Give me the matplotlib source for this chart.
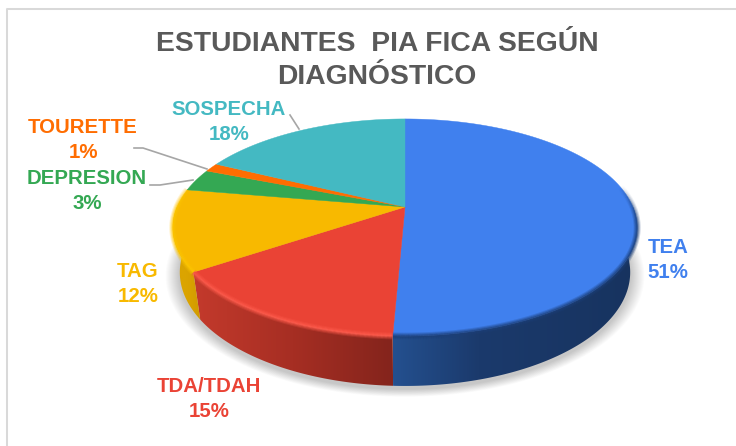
import numpy as np
import matplotlib
matplotlib.use("Agg")
import matplotlib.pyplot as plt
from matplotlib.collections import LineCollection
from matplotlib.colors import to_rgb, to_rgba
from matplotlib.patches import Polygon

plt.rcParams['font.family'] = ['Liberation Sans', 'DejaVu Sans']

labels = ["TEA", "TDA/TDAH", "TAG", "DEPRESION", "TOURETTE", "SOSPECHA"]
values = [50.7, 14.9, 12.1, 3.3, 1.3, 17.7]
colors = ["#4080ee", "#ea4335", "#f8b900", "#34a853", "#ff6d01", "#44b9c2"]
rim_colors = ["#1c3f78", "#ff5c4d", "#ffc800", "#34a853", "#ff6d01", "#44b9c2"]
wall_colors = [["#24508f", "#1b3a6c", "#17335f"], ["#c43a2c", "#a62e23", "#84241c"],
               ["#dba400", "#dba400", "#d09a00"], ["#2a8a44"] * 3, ["#d45a00"] * 3, ["#389aa2"] * 3]
label_pos = [(668, 260), (209, 399), (138, 284), (87, 191), (83, 140), (229, 122)]

cx, cy = 405, 207
A, B, k = 228, 104.7, 0.189
C, m = 45.8, 0.03


def top(t):
    X, Y = np.sin(t), np.cos(t)
    w = 1 + k * Y
    return cx + A * X / w, cy - B * Y / w


def bottom(t):
    X, Y = np.sin(t), np.cos(t)
    w = 1 + k * Y + m
    return cx + A * X / w, cy + (C - B * Y) / w


fig = plt.figure(figsize=(7.36, 4.46), dpi=100)
ax = fig.add_axes([0, 0, 1, 1])

# chart frame
ax.plot([7, 7, 736], [446, 9, 9], color="#d9d9d9", lw=1.45, zorder=1, solid_capstyle="butt")

# soft shadow under the pie
full = np.linspace(0, 2 * np.pi, 240)
sx, sy = bottom(full)
mx, my = sx.mean(), sy.mean()
for i in range(14):
    grow = 1 + (14 - i) * 0.0045
    ax.add_patch(Polygon(np.c_[mx + (sx - mx) * grow, my + (sy - my) * grow + 3], fc="black",
                         ec="none", alpha=0.016, zorder=2))

edges = np.cumsum([0] + values) / sum(values) * 2 * np.pi

# side wall, only the part facing us is visible
for i in range(len(values)):
    t0, t1 = max(edges[i], np.pi / 2), min(edges[i + 1], 3 * np.pi / 2)
    if t1 <= t0:
        continue
    s = np.linspace(t0, t1, 150)
    tx, ty = top(s)
    bx, by = bottom(s)
    pts = np.r_[np.c_[tx, ty], np.c_[bx, by][::-1]]
    patch = Polygon(pts, fc="none", ec="none", zorder=3)
    ax.add_patch(patch)
    x0, x1 = pts[:, 0].min(), pts[:, 0].max()
    stops = np.array([to_rgb(c) for c in wall_colors[i]])
    f = np.linspace(0, 1, 256)
    if i == 0:
        pos = [0, 0.35, 1]
    else:
        pos = [0, 0.5, 1]
    grad = np.stack([np.interp(f, pos, stops[:, n]) for n in range(3)], axis=1)[None, :, :]
    im = ax.imshow(grad, extent=(x0, x1, pts[:, 1].max(), pts[:, 1].min()), aspect="auto",
                   zorder=3, interpolation="bilinear")
    im.set_clip_path(patch)

# top faces
for i in range(len(values)):
    s = np.linspace(edges[i], edges[i + 1], 120)
    tx, ty = top(s)
    pts = np.r_[[[cx, cy]], np.c_[tx, ty]]
    ax.add_patch(Polygon(pts, fc=colors[i], ec=colors[i], lw=0.3, zorder=4))

# rounded rim between face and wall, fades out at the two ends
for i in range(3):
    s = np.linspace(max(edges[i], np.pi / 2 - 0.2), min(edges[i + 1], 3 * np.pi / 2 + 0.35), 200)
    tx, ty = top(s)
    segs = np.stack([np.c_[tx[:-1], ty[:-1]], np.c_[tx[1:], ty[1:]]], axis=1)
    mid = (s[:-1] + s[1:]) / 2
    fade = np.clip((mid - np.pi / 2 + 0.2) / 0.35, 0, 1) * np.clip((3 * np.pi / 2 + 0.35 - mid) / 0.35, 0, 1)
    for lw, a in [(5, 0.22), (3.5, 0.35), (1.8, 0.55)]:
        seg_colors = [to_rgba(rim_colors[i], a * v) for v in fade]
        ax.add_collection(LineCollection(segs, colors=seg_colors, linewidths=lw, zorder=5,
                                         capstyle="butt"))

# leader lines
ax.plot([290, 299], [115, 129], color="#a6a6a6", lw=1.2, zorder=6)
ax.plot([134, 143, 207], [148, 148, 169], color="#a6a6a6", lw=1.2, zorder=6)
ax.plot([150, 160, 193], [185, 185, 180], color="#a6a6a6", lw=1.2, zorder=6)

ax.text(377, 60.5, "ESTUDIANTES  PIA FICA SEGÚN\nDIAGNÓSTICO", ha="center", va="center",
        fontsize=20.3, fontweight="bold", color="#595959", linespacing=1.36)

for i in range(len(values)):
    ax.text(label_pos[i][0], label_pos[i][1], f"{labels[i]}\n{round(values[i])}%", ha="center",
            va="center", fontsize=14.7, fontweight="bold", color=colors[i], linespacing=1.34,
            zorder=7)

ax.set_xlim(0, 736)
ax.set_ylim(446, 0)
ax.axis("off")

fig.savefig("out.png", dpi=100)
